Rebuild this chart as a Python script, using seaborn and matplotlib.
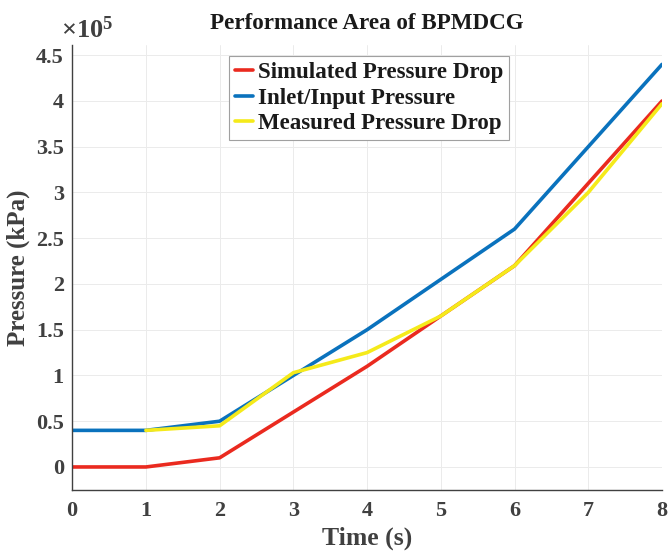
import seaborn as sns
import numpy as np
import matplotlib.pyplot as plt
from matplotlib.ticker import FuncFormatter

# data (Pa)
time = [0, 1, 2, 3, 4, 5, 6, 7, 8]
simulated = [0, 0, 0.1e5, 0.6e5, 1.1e5, 1.65e5, 2.2e5, 3.1e5, 4.0e5]
inlet = [0.4e5, 0.4e5, 0.5e5, 1.0e5, 1.5e5, 2.05e5, 2.6e5, 3.5e5, 4.4e5]
time_measured = [1, 2, 3, 4, 5, 6, 7, 8]
measured = [0.4e5, 0.45e5, 1.03e5, 1.25e5, 1.65e5, 2.2e5, 3.0e5, 3.97e5]

sns.set_style("whitegrid")
plt.rcParams['font.family'] = ['Liberation Serif', 'DejaVu Serif']
plt.rcParams['font.weight'] = 'bold'
plt.rcParams['mathtext.fontset'] = 'custom'
plt.rcParams['mathtext.rm'] = 'Liberation Serif'

fig = plt.figure(figsize=(6.68, 5.51), dpi=100)
ax = fig.add_axes([0.108, 0.111, 0.883, 0.807])

sns.lineplot(x=time, y=simulated, color='#ea2a1f', lw=2.6, label='Simulated Pressure Drop', ax=ax)
sns.lineplot(x=time, y=inlet, color='#0a72bd', lw=2.6, label='Inlet/Input Pressure', ax=ax)
sns.lineplot(x=time_measured, y=measured, color='#f5ea1a', lw=2.6, label='Measured Pressure Drop', ax=ax)

ax.set_xlim(0, 8)
ax.set_ylim(-0.25e5, 4.61e5)
ax.set_xticks(range(0, 9))
ax.set_yticks(np.arange(0, 4.51e5, 0.5e5))
ax.yaxis.set_major_formatter(FuncFormatter(lambda v, p: f"{v / 1e5:g}"))

ax.grid(True, color='#ebebeb', lw=0.7)
for s in ['top', 'right']:
    ax.spines[s].set_visible(False)
for s in ['left', 'bottom']:
    ax.spines[s].set_color('#404040')
    ax.spines[s].set_linewidth(1.0)
ax.tick_params(direction='in', length=5, width=0.8, colors='#404040',
               labelsize=16, labelcolor='#404040')
ax.tick_params(axis='x', pad=8)
ax.tick_params(axis='y', pad=6)

ax.text(0.025, 1.005, r'$\mathrm{\times 10^{5}}$', transform=ax.transAxes, fontsize=19,
        color='#404040', ha='center', va='bottom', fontweight='normal')
ax.set_title('Performance Area of BPMDCG', fontsize=16.6, fontweight='bold',
             color='#1a1a1a', pad=12)
ax.set_xlabel('Time (s)', fontsize=18.5, fontweight='bold', color='#404040', labelpad=4)
ax.set_ylabel('Pressure (kPa)', fontsize=18, fontweight='bold', color='#404040', labelpad=4)

leg = ax.legend(loc='upper left', bbox_to_anchor=(0.266, 0.975), fontsize=16.5,
                handlelength=0.8, handletextpad=0.2, borderpad=0.25, borderaxespad=0,
                labelspacing=0.2, fancybox=False, framealpha=1,
                edgecolor='#a0a0a0')
leg.get_frame().set_linewidth(0.8)
for t in leg.get_texts():
    t.set_color('#1a1a1a')

plt.savefig('out.png', dpi=100)
